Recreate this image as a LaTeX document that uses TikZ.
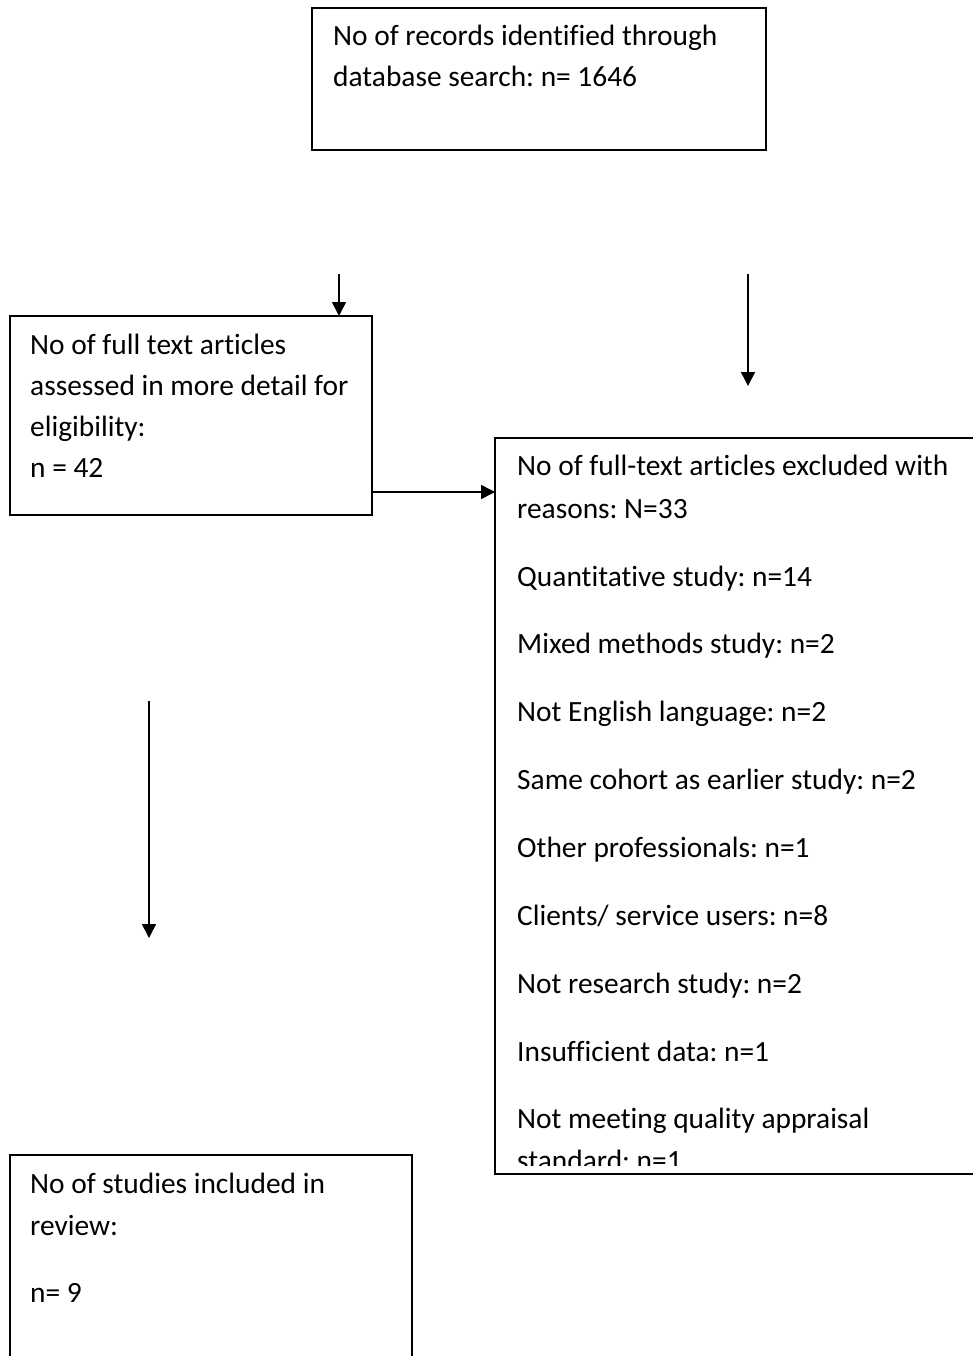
\documentclass[tikz,border=0pt]{standalone}
\usepackage{fontspec}
\setmainfont[Ligatures=NoCommon]{Carlito}
\frenchspacing
\usetikzlibrary{arrows.meta}
\tikzset{
  boxnode/.style={draw=black, line width=1.6pt, anchor=north west, inner sep=0pt, outer sep=0pt},
  txt/.style={anchor=base west, inner sep=0pt, font=\fontsize{29.4}{41}\selectfont},
  arr/.style={line width=1.6pt, -{Triangle[width=14pt,length=14pt]}}
}
\begin{document}
\begin{tikzpicture}[x=1pt,y=-1pt]
\useasboundingbox (0,0) rectangle (972,1356);
% boxes
\node[boxnode, minimum width=454pt, minimum height=142pt] (top) at (312,8) {};
\node[boxnode, minimum width=362pt, minimum height=199pt] (full) at (10,316) {};
\node[boxnode, minimum width=520pt, minimum height=736pt] (excl) at (495,438) {};
\node[boxnode, minimum width=402pt, minimum height=230pt] (incl) at (10,1155) {};
% texts
\node[txt] (t1) at (333,46) {No of records identified through};
\node[txt] (t2) at (333,87) {database search: n= 1646};
\node[txt] (f1) at (30,354) {No of full text articles};
\node[txt] (f2) at (30,395) {assessed in more detail for};
\node[txt] (f3) at (30,436) {eligibility:};
\node[txt] (f4) at (30,477) {n = 42};
\node[txt] (e1) at (517,475) {No of full-text articles excluded with};
\node[txt] (e2) at (517,518) {reasons: N=33};
\node[txt] (e3) at (517,586) {Quantitative study: n=14};
\node[txt] (e4) at (517,653) {Mixed methods study: n=2};
\node[txt] (e5) at (517,721) {Not English language: n=2};
\node[txt] (e6) at (517,789) {Same cohort as earlier study: n=2};
\node[txt] (e7) at (517,857) {Other professionals: n=1};
\node[txt] (e8) at (517,925) {Clients/ service users: n=8};
\node[txt] (e9) at (517,993) {Not research study: n=2};
\node[txt] (e10) at (517,1061) {Insufficient data: n=1};
\node[txt] (e11) at (517,1128) {Not meeting quality appraisal};
\begin{scope}
\clip (500,1135) rectangle (972,1165);
\node[txt] (e12) at (517,1170) {standard: n=1};
\end{scope}
\node[txt] (i1) at (30,1193) {No of studies included in};
\node[txt] (i2) at (30,1235) {review:};
\node[txt] (i3) at (30,1302) {n= 9};
% connectors
\coordinate (a1s) at (339,274);
\coordinate (a2s) at (748,274);
\coordinate (a2e) at (748,386);
\coordinate (a3s) at (149,701);
\coordinate (a3e) at (149,938);
\draw[arr] (a1s) -- (a1s |- full.north);
\draw[arr] (a2s) -- (a2e);
\draw[arr] (full.east |- 0,492) -- (excl.west |- 0,492);
\draw[arr] (a3s) -- (a3e);
\end{tikzpicture}
\end{document}
